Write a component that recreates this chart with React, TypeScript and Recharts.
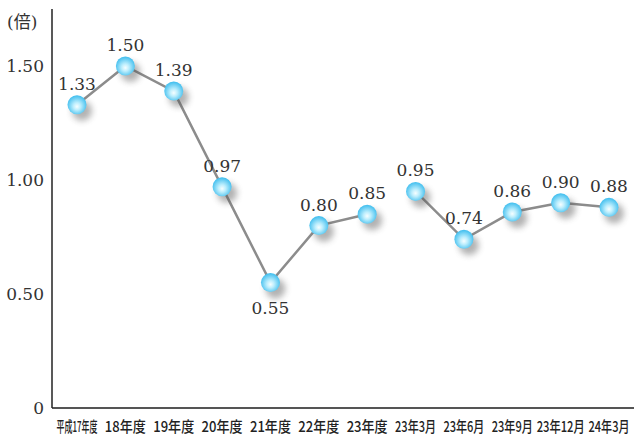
import { LineChart, Line, XAxis, YAxis } from "recharts";

const categories = [
  "平成17年度",
  "18年度",
  "19年度",
  "20年度",
  "21年度",
  "22年度",
  "23年度",
  "23年3月",
  "23年6月",
  "23年9月",
  "23年12月",
  "24年3月",
];

// annual figures, then quarterly figures (drawn as a separate line)
const annualValues = [1.33, 1.5, 1.39, 0.97, 0.55, 0.8, 0.85, null, null, null, null, null];
const monthlyValues = [null, null, null, null, null, null, null, 0.95, 0.74, 0.86, 0.9, 0.88];
const yTicks = [0, 0.5, 1, 1.5];
const labelsBelow = ["21年度"];

const data = categories.map((name, i) => ({
  name,
  annual: annualValues[i],
  monthly: monthlyValues[i],
}));

const SERIF = "'DejaVu Serif', 'Liberation Serif', serif";
const GOTHIC = "'Noto Sans CJK JP', 'Noto Sans', sans-serif";

function Ball(props: any) {
  const { cx, cy, value, payload } = props;
  if (value == null || cx == null || cy == null) return <g />;
  const below = labelsBelow.includes(payload.name);
  return (
    <g>
      <circle cx={cx + 5} cy={cy + 6} r={10} fill="#555" opacity={0.45} filter="url(#ballShadow)" />
      <circle cx={cx} cy={cy} r={9.5} fill="url(#ballFill)" />
      <text
        x={cx}
        y={below ? cy + 31 : cy - 15}
        textAnchor="middle"
        fontFamily={SERIF}
        fontSize={17}
        fill="#333"
      >
        {value.toFixed(2)}
      </text>
    </g>
  );
}

function CategoryTick(props: any) {
  const { x, payload } = props;
  const label: string = payload.value;
  const digits = (label.match(/[0-9]/g) || []).length;
  return (
    <text
      x={x}
      y={432}
      textAnchor="middle"
      fontFamily={GOTHIC}
      fontSize={15}
      fontWeight={500}
      fill="#222"
      textLength={digits >= 4 ? 48 : 41}
      lengthAdjust="spacingAndGlyphs"
    >
      {label}
    </text>
  );
}

export default function App() {
  return (
    <div style={{ position: "fixed", left: 0, top: 0, width: 638, height: 437, background: "#fff" }}>
      <svg width={0} height={0} style={{ position: "absolute" }}>
        <defs>
          <radialGradient id="ballFill" cx="50%" cy="55%" r="55%" fx="50%" fy="60%">
            <stop offset="0%" stopColor="#f6feff" />
            <stop offset="35%" stopColor="#bdeefd" />
            <stop offset="100%" stopColor="#3dbdee" />
          </radialGradient>
          <filter id="ballShadow" x="-1" y="-1" width="3" height="3">
            <feGaussianBlur stdDeviation="3" />
          </filter>
        </defs>
      </svg>
      <div
        style={{
          position: "absolute",
          left: 7,
          top: 8,
          fontFamily: "'DejaVu Serif', 'Noto Sans CJK JP', serif",
          fontSize: 17,
          color: "#333",
        }}
      >
        (倍)
      </div>
      <LineChart width={638} height={437} data={data} margin={{ top: 9, right: 4, bottom: 0, left: 0 }}>
        <XAxis
          dataKey="name"
          height={29}
          padding={{ left: 25, right: 25 }}
          axisLine={{ stroke: "#555", strokeWidth: 2 }}
          tickLine={false}
          interval={0}
          tick={<CategoryTick />}
        />
        <YAxis
          domain={[0, 1.75]}
          ticks={yTicks}
          width={52}
          axisLine={{ stroke: "#222", strokeWidth: 1.5 }}
          tickLine={false}
          tick={{ fontFamily: SERIF, fontSize: 17, fill: "#333" }}
          tickFormatter={(v: number) => (v === 0 ? "0" : v.toFixed(2))}
        />
        <Line
          dataKey="annual"
          stroke="#8c8c8c"
          strokeWidth={2.5}
          dot={<Ball />}
          activeDot={false}
          isAnimationActive={false}
        />
        <Line
          dataKey="monthly"
          stroke="#8c8c8c"
          strokeWidth={2.5}
          dot={<Ball />}
          activeDot={false}
          isAnimationActive={false}
        />
      </LineChart>
    </div>
  );
}
